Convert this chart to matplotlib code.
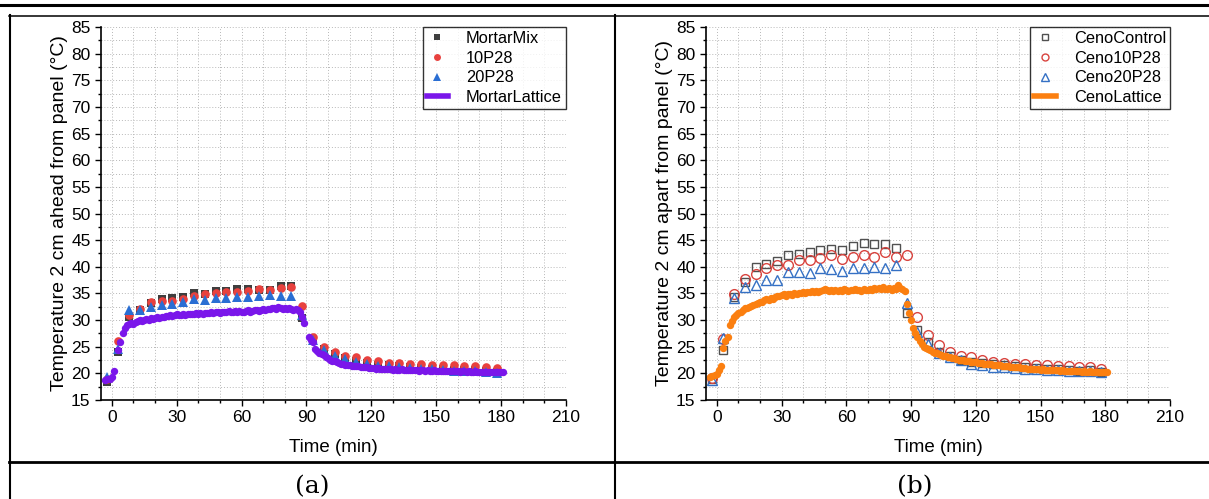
import numpy as np
import matplotlib.pyplot as plt
from matplotlib.lines import Line2D
from matplotlib.ticker import MultipleLocator

plt.rcParams['font.family'] = ['Liberation Sans', 'DejaVu Sans']

# sample times (min) of the discrete series
t_pts = [-2, 3, 8, 13, 18, 23, 28, 33, 38, 43, 48, 53, 58, 63, 68, 73, 78, 83,
         88, 93, 98, 103, 108, 113, 118, 123, 128, 133, 138, 143, 148, 153, 158,
         163, 168, 173, 178]

mortar_mix = [18.3, 24.0, 30.6, 31.9, 33.2, 34.0, 34.1, 34.3, 35.1, 34.9, 35.5, 35.5,
              35.9, 35.9, 35.7, 35.6, 36.4, 36.4, 30.4, 26.5, 24.6, 23.6, 22.9, 22.4,
              22.0, 21.6, 21.5, 21.3, 21.2, 21.0, 20.9, 20.8, 20.7, 20.7, 20.6, 20.5, 20.3]
p10_28 = [19.0, 26.1, 30.9, 32.0, 33.3, 33.6, 33.6, 33.9, 34.5, 34.9, 35.1, 35.2,
          35.3, 35.4, 35.8, 35.7, 36.0, 36.3, 32.6, 26.8, 25.0, 24.1, 23.3, 23.0,
          22.6, 22.4, 22.0, 21.9, 21.8, 21.7, 21.6, 21.5, 21.5, 21.4, 21.3, 21.2, 21.0]
p20_28 = [19.3, 24.5, 31.8, 31.9, 32.5, 32.9, 33.1, 33.4, 33.9, 33.7, 34.2, 34.2,
          34.3, 34.3, 34.5, 34.7, 34.6, 34.5, 31.0, 26.3, 24.3, 23.3, 22.7, 22.2,
          21.8, 21.4, 21.3, 21.1, 21.0, 20.9, 20.8, 20.6, 20.5, 20.5, 20.4, 20.3, 20.0]

ceno_control = [19.0, 24.4, 34.3, 37.2, 40.0, 40.6, 41.1, 42.2, 42.4, 42.7, 43.1, 43.3,
                43.1, 43.9, 44.4, 44.2, 44.2, 43.6, 31.4, 28.1, 25.9, 24.0, 23.3, 22.6,
                22.2, 21.9, 21.8, 21.5, 21.3, 21.2, 21.0, 20.9, 20.8, 20.7, 20.5, 20.6, 20.3]
ceno_10p28 = [19.1, 26.4, 34.9, 37.8, 38.6, 39.8, 40.4, 40.4, 41.3, 41.2, 41.6, 42.3,
              41.4, 41.9, 42.2, 41.9, 42.7, 41.8, 42.2, 30.5, 27.2, 25.3, 24.1, 23.3,
              23.0, 22.5, 22.1, 22.0, 21.8, 21.7, 21.6, 21.5, 21.4, 21.3, 21.2, 21.2, 20.9]
ceno_20p28 = [18.8, 26.6, 34.1, 36.2, 36.6, 37.6, 37.6, 39.0, 39.0, 38.8, 39.8, 39.5,
              39.3, 39.8, 39.7, 40.0, 39.7, 40.3, 33.2, 27.8, 25.5, 23.8, 23.1, 22.5,
              21.7, 21.6, 21.1, 21.2, 21.0, 20.9, 20.8, 20.6, 20.6, 20.5, 20.4, 20.5, 20.2]

# lattice panels logged every minute from -3 to 181
t_lat = np.arange(-3, 182)
mortar_lattice = [
    18.8, 18.9, 19.0, 19.4, 20.4, np.nan, 24.4, 25.9, 27.6, 28.6,
    29.1, 29.3, 29.4, 29.3, 29.7, 29.9, 30.0, 29.9, 30.1, 30.2,
    30.1, 30.3, 30.2, 30.4, 30.5, 30.4, 30.6, 30.5, 30.8, 30.7,
    30.9, 30.8, 31.0, 31.1, 30.9, 31.0, 31.1, 31.0, 31.2, 31.1,
    31.2, 31.1, 31.3, 31.2, 31.3, 31.2, 31.4, 31.3, 31.4, 31.5,
    31.4, 31.6, 31.5, 31.4, 31.6, 31.5, 31.6, 31.7, 31.6, 31.5,
    31.7, 31.6, 31.7, 31.6, 31.5, 31.7, 31.8, 31.6, 31.7, 31.9,
    31.8, 31.7, 31.9, 32.0, 31.8, 32.1, 32.0, 32.2, 32.3, 32.1,
    32.4, 32.2, 32.1, 32.3, 32.0, 32.2, 32.1, 31.9, 32.0, 31.8,
    31.6, 30.5, 29.5, np.nan, 26.8, 26.3, 25.8, 24.5, 24.2, 23.9,
    23.7, 23.5, 23.1, 22.8, 22.6, 22.4, 22.3, 22.1, 22.0, 21.8,
    21.7, 21.6, 21.5, 21.5, 21.4, 21.4, 21.3, 21.3, 21.2, 21.2,
    21.1, 21.1, 21.0, 21.0, 21.0, 20.9, 21.0, 20.9, 20.9, 20.8,
    20.9, 20.8, 20.8, 20.7, 20.8, 20.7, 20.7, 20.8, 20.7, 20.6,
    20.7, 20.6, 20.6, 20.7, 20.6, 20.5, 20.6, 20.6, 20.5, 20.6,
    20.5, 20.5, 20.6, 20.5, 20.4, 20.5, 20.5, 20.4, 20.5, 20.4,
    20.4, 20.5, 20.4, 20.4, 20.3, 20.4, 20.4, 20.3, 20.4, 20.3,
    20.3, 20.4, 20.3, 20.3, 20.3, 20.2, 20.3, 20.3, 20.3, 20.2,
    20.3, 20.3, 20.2, 20.3, 20.3]
ceno_lattice = [
    19.3, 19.5, 19.6, 19.9, 20.6, 21.4, 24.8, 26.0, 26.9, 29.0,
    29.8, 30.5, 30.9, 31.3, 31.6, 31.9, 32.2, 32.3, 32.5, 32.7,
    32.9, 33.0, 33.2, 33.4, 33.3, 33.7, 33.9, 33.8, 34.2, 34.0,
    34.4, 34.6, 34.5, 34.7, 34.8, 34.6, 34.8, 34.9, 34.7, 35.0,
    34.9, 35.1, 35.0, 35.2, 35.0, 35.3, 35.2, 35.4, 35.3, 35.5,
    35.2, 35.4, 35.6, 35.9, 35.6, 35.4, 35.7, 35.5, 35.6, 35.4,
    35.7, 35.5, 35.8, 35.6, 35.5, 35.7, 35.6, 35.8, 35.6, 35.7,
    35.5, 35.8, 35.7, 35.6, 35.9, 35.7, 36.1, 35.8, 36.0, 35.9,
    36.2, 35.8, 35.9, 36.1, 35.7, 36.0, 35.8, 36.5, 36.0, 35.8,
    35.5, 33.0, 31.3, 30.0, 28.5, 27.5, 26.8, 26.0, 25.5, 25.0,
    24.8, 24.5, 24.3, 24.1, 23.9, 23.8, 23.6, 23.5, 23.3, 23.2,
    23.1, 23.0, 22.9, 22.8, 22.7, 22.6, 22.5, 22.5, 22.4, 22.3,
    22.3, 22.2, 22.1, 22.1, 22.0, 22.0, 21.9, 21.8, 21.8, 21.7,
    21.7, 21.6, 21.6, 21.5, 21.5, 21.4, 21.4, 21.3, 21.3, 21.2,
    21.2, 21.2, 21.1, 21.1, 21.0, 21.0, 21.0, 20.9, 20.9, 20.9,
    20.8, 20.8, 20.8, 20.7, 20.8, 20.7, 20.7, 20.6, 20.7, 20.6,
    20.6, 20.6, 20.5, 20.6, 20.5, 20.5, 20.5, 20.4, 20.5, 20.4,
    20.4, 20.4, 20.3, 20.4, 20.3, 20.3, 20.4, 20.3, 20.3, 20.3,
    20.2, 20.3, 20.3, 20.2, 20.3]

fig = plt.figure(figsize=(12.09, 4.99), dpi=100)
W, H = 1209, 499


def px_axes(x0, x1, y0, y1):
    return fig.add_axes([x0 / W, 1 - y1 / H, (x1 - x0) / W, (y1 - y0) / H])


def style(ax, ylabel):
    ax.set_xlim(-5, 210)
    ax.set_ylim(15, 85)
    ax.xaxis.set_major_locator(MultipleLocator(30))
    ax.xaxis.set_minor_locator(MultipleLocator(10))
    ax.yaxis.set_major_locator(MultipleLocator(5))
    ax.yaxis.set_minor_locator(MultipleLocator(2.5))
    ax.grid(True, which='both', linestyle=(0, (1, 2)), color='#b8b8b8', lw=0.7)
    ax.set_axisbelow(True)
    for s in ['top', 'right']:
        ax.spines[s].set_visible(False)
    for s in ['left', 'bottom']:
        ax.spines[s].set_linewidth(1.2)
    ax.tick_params(which='major', direction='out', length=4, width=1, labelsize=12.5)
    ax.tick_params(which='minor', direction='out', length=2.5, width=1)
    ax.set_xlabel('Time (min)', fontsize=13.5, labelpad=10)
    ax.set_ylabel(ylabel, fontsize=14, labelpad=2)


leg_kw = dict(loc='upper right', fontsize=11.8, frameon=True, fancybox=False,
              edgecolor='black', borderaxespad=0, borderpad=0.25, labelspacing=0.28,
              handlelength=1.3, handletextpad=1.1)

# (a)
ax1 = px_axes(101, 566, 27, 400)
style(ax1, 'Temperature 2 cm ahead from panel (°C)')
ax1.plot(t_pts, mortar_mix, 's', color='#3f3f3f', ms=5.8, mew=0)
ax1.plot(t_pts, p10_28, 'o', color='#e8413e', ms=6.2, mew=0)
ax1.plot(t_pts, p20_28, '^', color='#2a6ed3', ms=7, mew=0)
ax1.plot(t_lat, mortar_lattice, 'o', color='#7a16ea', ms=5.3, mew=0)
h1 = [Line2D([], [], ls='none', marker='s', color='#3f3f3f', ms=4.5, mew=0),
      Line2D([], [], ls='none', marker='o', color='#e8413e', ms=5, mew=0),
      Line2D([], [], ls='none', marker='^', color='#2a6ed3', ms=5.5, mew=0),
      Line2D([], [], color='#7a16ea', lw=4)]
ax1.legend(h1, ['MortarMix', '10P28', '20P28', 'MortarLattice'], **leg_kw).get_frame().set_linewidth(1)

# (b)
ax2 = px_axes(706, 1170, 27, 400)
style(ax2, 'Temperature 2 cm apart from panel (°C)')
ax2.plot(t_pts, ceno_control, 's', mfc='none', mec='#505050', ms=6, mew=1)
ax2.plot(t_pts, ceno_10p28, 'o', mfc='none', mec='#d9443f', ms=7, mew=1)
ax2.plot(t_pts, ceno_20p28, '^', mfc='none', mec='#3470c4', ms=7.5, mew=1)
ax2.plot(t_lat, ceno_lattice, 'o', color='#fb7f10', ms=5.3, mew=0)
h2 = [Line2D([], [], ls='none', marker='s', mfc='none', mec='#505050', ms=4.5, mew=1),
      Line2D([], [], ls='none', marker='o', mfc='none', mec='#d9443f', ms=5, mew=1),
      Line2D([], [], ls='none', marker='^', mfc='none', mec='#3470c4', ms=5.5, mew=1),
      Line2D([], [], color='#fb7f10', lw=4)]
ax2.legend(h2, ['CenoControl', 'Ceno10P28', 'Ceno20P28', 'CenoLattice'], **leg_kw).get_frame().set_linewidth(1)


# table rules around the two panels
def rule(x0, y0, x1, y1, lw):
    fig.add_artist(Line2D([x0 / W, x1 / W], [1 - y0 / H, 1 - y1 / H], color='black', lw=lw))


rule(0, 5, W, 5, 2.2)
rule(9, 15.5, W, 15.5, 1.1)
rule(9.5, 15, 9.5, H, 1.5)
rule(615, 15, 615, H, 1.5)
rule(9, 462, W, 462, 2)

fig.text(312 / W, 1 - 487 / H, '(a)', family='DejaVu Serif', fontsize=18, ha='center', va='center')
fig.text(915 / W, 1 - 487 / H, '(b)', family='DejaVu Serif', fontsize=18, ha='center', va='center')

fig.savefig('out.png', dpi=100)
